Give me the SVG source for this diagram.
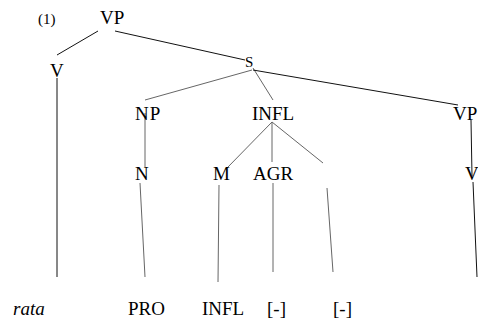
<svg xmlns="http://www.w3.org/2000/svg" width="478" height="322" viewBox="0 0 478 322" font-family="'Liberation Serif', 'Times New Roman', 'DejaVu Serif', serif">
<style>
text{font-family:"Liberation Serif","Times New Roman","DejaVu Serif",serif;font-size:19px;fill:#000}
.sm{font-size:15px}
.it{font-style:italic}
line{stroke-width:1;fill:none}
.k{stroke:#111}
.g{stroke:#666}
</style>
<rect width="478" height="322" fill="#fff"/>
<g id="edges">
<line class="k" x1="98" y1="31" x2="57" y2="55"/>
<line class="k" x1="115" y1="31" x2="245" y2="60"/>
<line class="g" x1="252" y1="70" x2="145" y2="100"/>
<line class="g" x1="253" y1="68" x2="273" y2="100"/>
<line class="k" x1="253" y1="70" x2="458" y2="105"/>
<line class="k" x1="57" y1="78" x2="57" y2="277"/>
<line class="g" x1="145" y1="113" x2="145" y2="167"/>
<line class="g" x1="140" y1="183" x2="145" y2="277"/>
<line class="g" x1="272" y1="122" x2="227" y2="168"/>
<line class="g" x1="272" y1="122" x2="272" y2="162"/>
<line class="g" x1="272" y1="122" x2="323" y2="163"/>
<line class="g" x1="219" y1="185" x2="218" y2="282"/>
<line class="g" x1="273" y1="183" x2="273" y2="272"/>
<line class="g" x1="327" y1="188" x2="333" y2="272"/>
<line class="k" x1="471" y1="120" x2="472" y2="176"/>
<line class="k" x1="473" y1="182" x2="477" y2="277"/>
</g>
<g id="label1"><text class="sm" x="38" y="24">(1)</text></g>
<g id="vp"><text x="100" y="24">VP</text></g>
<g id="v1"><text x="50" y="77">V</text></g>
<g id="s"><text class="sm" x="245" y="67">S</text></g>
<g id="np"><text x="135" y="120" letter-spacing="1">NP</text></g>
<g id="infl"><text x="252" y="120">INFL</text></g>
<g id="vp2"><text x="453" y="120">VP</text></g>
<g id="n"><text x="135" y="180">N</text></g>
<g id="m"><text x="213" y="180">M</text></g>
<g id="agr"><text x="253" y="180">AGR</text></g>
<g id="v2"><text x="465" y="180">V</text></g>
<g id="rata"><text class="it" x="13" y="315">rata</text></g>
<g id="pro"><text x="128" y="315">PRO</text></g>
<g id="infl2"><text x="202" y="315">INFL</text></g>
<g id="neg1"><text x="267" y="315">[-]</text></g>
<g id="neg2"><text x="333" y="315">[-]</text></g>
</svg>
